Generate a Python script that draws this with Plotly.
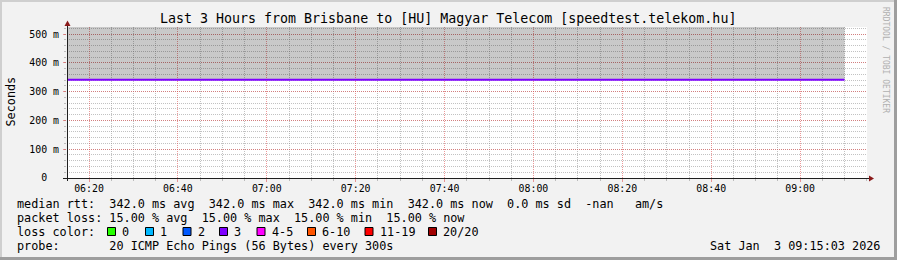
import plotly.graph_objects as go

# ---------------- data ----------------
sample_times = [
    "2026-01-03 06:15:00", "2026-01-03 06:20:00", "2026-01-03 06:25:00", "2026-01-03 06:30:00",
    "2026-01-03 06:35:00", "2026-01-03 06:40:00", "2026-01-03 06:45:00", "2026-01-03 06:50:00",
    "2026-01-03 06:55:00", "2026-01-03 07:00:00", "2026-01-03 07:05:00", "2026-01-03 07:10:00",
    "2026-01-03 07:15:00", "2026-01-03 07:20:00", "2026-01-03 07:25:00", "2026-01-03 07:30:00",
    "2026-01-03 07:35:00", "2026-01-03 07:40:00", "2026-01-03 07:45:00", "2026-01-03 07:50:00",
    "2026-01-03 07:55:00", "2026-01-03 08:00:00", "2026-01-03 08:05:00", "2026-01-03 08:10:00",
    "2026-01-03 08:15:00", "2026-01-03 08:20:00", "2026-01-03 08:25:00", "2026-01-03 08:30:00",
    "2026-01-03 08:35:00", "2026-01-03 08:40:00", "2026-01-03 08:45:00", "2026-01-03 08:50:00",
    "2026-01-03 08:55:00", "2026-01-03 09:00:00", "2026-01-03 09:05:00", "2026-01-03 09:10:00",
]
median_rtt_s = [
    0.342, 0.342, 0.342, 0.342, 0.342, 0.342, 0.342, 0.342, 0.342,
    0.342, 0.342, 0.342, 0.342, 0.342, 0.342, 0.342, 0.342, 0.342,
    0.342, 0.342, 0.342, 0.342, 0.342, 0.342, 0.342, 0.342, 0.342,
    0.342, 0.342, 0.342, 0.342, 0.342, 0.342, 0.342, 0.342, 0.342,
]
smoke_top_s = [
    0.525, 0.525, 0.525, 0.525, 0.525, 0.525, 0.525, 0.525, 0.525,
    0.525, 0.525, 0.525, 0.525, 0.525, 0.525, 0.525, 0.525, 0.525,
    0.525, 0.525, 0.525, 0.525, 0.525, 0.525, 0.525, 0.525, 0.525,
    0.525, 0.525, 0.525, 0.525, 0.525, 0.525, 0.525, 0.525, 0.525,
]
y_tick_vals = [0.0, 0.1, 0.2, 0.3, 0.4, 0.5]
y_tick_text = ["0\u00a0\u00a0", "100 m", "200 m", "300 m", "400 m", "500 m"]
x_range = ["2026-01-03 06:15:03", "2026-01-03 09:15:03"]
y_range = [0, 0.525]

loss_labels = ["0", "1", "2", "3", "4-5", "6-10", "11-19", "20/20"]
loss_colors = ["#26ff00", "#00b8ff", "#0059ff", "#7e00ff", "#ff00ff", "#ff5500", "#ff0000", "#a10000"]
line_color = "#7e00ff"   # 3/20 lost -> colour "3"

title_text = "Last 3 Hours from Brisbane to [HU] Magyar Telecom [speedtest.telekom.hu]"
row_median = "median rtt:  342.0 ms avg  342.0 ms max  342.0 ms min  342.0 ms now  0.0 ms sd  -nan   am/s"
row_loss = "packet loss: 15.00 % avg  15.00 % max  15.00 % min  15.00 % now"
row_color = "loss color:"
row_probe = "probe:       20 ICMP Echo Pings (56 Bytes) every 300s"
date_text = "Sat Jan  3 09:15:03 2026"
watermark = "RRDTOOL / TOBI OETIKER"

# ---------------- geometry ----------------
W, H = 897, 260
L, R, T, B = 67, 867, 27, 178
PW, PH = R - L, B - T


def px(x):
    return (x - L) / PW


def py(y):
    return (B - y) / PH


def nb(s):
    return s.replace(" ", "\u00a0")


MONO = "DejaVu Sans Mono"
BG = "#f2f2f2"
MINOR_GRID = "rgba(143,143,143,0.55)"
MAJOR_GRID = "rgba(222,79,79,0.58)"
ARROW = "#8a1a1a"
AXIS = "#1f1f1f"

fig = go.Figure()

# smoke (grey band above median)
fig.add_trace(go.Scatter(x=sample_times, y=median_rtt_s, mode="lines",
                         line=dict(width=0, color="rgba(0,0,0,0)", shape="hv"),
                         hoverinfo="skip", showlegend=False))
fig.add_trace(go.Scatter(x=sample_times, y=smoke_top_s, mode="lines", fill="tonexty",
                         fillcolor="rgba(0,0,0,0.21)",
                         line=dict(width=0, color="rgba(0,0,0,0)", shape="hv"),
                         hoverinfo="skip", showlegend=False))
# median line
fig.add_trace(go.Scatter(x=sample_times, y=median_rtt_s, mode="lines",
                         line=dict(width=2, color=line_color, shape="hv"),
                         showlegend=False))

fig.update_layout(
    width=W, height=H,
    margin=dict(l=L, r=W - R, t=T, b=H - B, pad=0),
    paper_bgcolor=BG, plot_bgcolor="#ffffff",
    font=dict(family=MONO, size=11.8, color="#000000"),
    showlegend=False,
)

fig.update_xaxes(
    type="date", range=x_range,
    tickmode="linear", tick0="2026-01-03 06:20:00", dtick=20 * 60 * 1000,
    tickformat="%H:%M",
    tickfont=dict(family=MONO, size=9.9, color="#000000"),
    ticks="outside", ticklen=3, tickcolor=MAJOR_GRID, tickwidth=1,
    ticklabelstandoff=-2,
    showgrid=True, gridcolor=MAJOR_GRID, griddash="1px,1px", gridwidth=1,
    minor=dict(tickmode="linear", tick0="2026-01-03 06:15:00", dtick=5 * 60 * 1000,
               ticks="outside", ticklen=2, tickcolor=MINOR_GRID,
               showgrid=True, gridcolor=MINOR_GRID, griddash="1px,1px", gridwidth=1),
    showline=False, zeroline=False, fixedrange=True,
)
fig.update_yaxes(
    range=y_range,
    tickmode="array", tickvals=y_tick_vals, ticktext=y_tick_text,
    tickfont=dict(family=MONO, size=9.9, color="#000000"),
    ticks="outside", ticklen=3, tickcolor=MAJOR_GRID, tickwidth=1,
    ticklabelstandoff=2,
    showgrid=True, gridcolor=MAJOR_GRID, griddash="1px,1px", gridwidth=1,
    minor=dict(tickmode="linear", tick0=0, dtick=0.02,
               ticks="outside", ticklen=2, tickcolor=MINOR_GRID,
               showgrid=True, gridcolor=MINOR_GRID, griddash="1px,1px", gridwidth=1),
    showline=False, zeroline=False, fixedrange=True,
)

shapes = []
# bevelled frame
shapes.append(dict(type="rect", xref="paper", yref="paper", x0=px(0), x1=px(W), y0=py(0), y1=py(2),
                   fillcolor="#cfcfcf", line=dict(width=0), layer="below"))
shapes.append(dict(type="rect", xref="paper", yref="paper", x0=px(0), x1=px(2), y0=py(0), y1=py(H),
                   fillcolor="#cfcfcf", line=dict(width=0), layer="below"))
shapes.append(dict(type="rect", xref="paper", yref="paper", x0=px(W - 3), x1=px(W), y0=py(0), y1=py(H),
                   fillcolor="#9e9e9e", line=dict(width=0), layer="below"))
shapes.append(dict(type="rect", xref="paper", yref="paper", x0=px(0), x1=px(W), y0=py(H - 3), y1=py(H),
                   fillcolor="#9e9e9e", line=dict(width=0), layer="below"))
# axes
shapes.append(dict(type="line", xref="paper", yref="paper", x0=px(63), x1=px(869), y0=py(178.5), y1=py(178.5),
                   line=dict(color=AXIS, width=1)))
shapes.append(dict(type="line", xref="paper", yref="paper", x0=px(67.5), x1=px(67.5), y0=py(181), y1=py(25),
                   line=dict(color=AXIS, width=1)))
# arrows
shapes.append(dict(type="path", xref="paper", yref="paper",
                   path=f"M {px(869)} {py(175.5)} L {px(874)} {py(178.5)} L {px(869)} {py(181.5)} Z",
                   fillcolor=ARROW, line=dict(width=0)))
shapes.append(dict(type="path", xref="paper", yref="paper",
                   path=f"M {px(64.5)} {py(26)} L {px(67.5)} {py(20.5)} L {px(70.5)} {py(26)} Z",
                   fillcolor=ARROW, line=dict(width=0)))

# loss colour swatches
swatch_left = [107.5, 145.5, 183, 219.5, 257, 307.5, 365, 428.5]
annotations = []
for lbl, col, x0 in zip(loss_labels, loss_colors, swatch_left):
    shapes.append(dict(type="rect", xref="paper", yref="paper",
                       x0=px(x0), x1=px(x0 + 8), y0=py(227.5), y1=py(235.5),
                       fillcolor=col, line=dict(color="#000000", width=1)))
    annotations.append(dict(xref="paper", yref="paper", x=px(x0 + 12.5), y=py(231.5),
                            xanchor="left", yanchor="middle", showarrow=False,
                            text=nb(lbl), font=dict(family=MONO, size=11.8, color="#000000")))

# texts
annotations.append(dict(xref="paper", yref="paper", x=px(448), y=py(19), xanchor="center", yanchor="middle",
                        showarrow=False, text=nb(title_text), font=dict(family=MONO, size=13.3, color="#000000")))
for txt, yc in [(row_median, 204), (row_loss, 218), (row_color, 231.5), (row_probe, 245.5)]:
    annotations.append(dict(xref="paper", yref="paper", x=px(14.5), y=py(yc), xanchor="left", yanchor="middle",
                            showarrow=False, text=nb(txt), font=dict(family=MONO, size=11.8, color="#000000")))
annotations.append(dict(xref="paper", yref="paper", x=px(882), y=py(245.5), xanchor="right", yanchor="middle",
                        showarrow=False, text=nb(date_text), font=dict(family=MONO, size=11.8, color="#000000")))
annotations.append(dict(xref="paper", yref="paper", x=px(10.5), y=py(102), xanchor="center", yanchor="middle",
                        textangle=-90, showarrow=False, text="Seconds",
                        font=dict(family=MONO, size=11.8, color="#000000")))
annotations.append(dict(xref="paper", yref="paper", x=px(886), y=py(60), xanchor="center", yanchor="middle",
                        textangle=90, showarrow=False, text=nb(watermark),
                        font=dict(family=MONO, size=8, color="#b0b0b0")))

fig.update_layout(shapes=shapes, annotations=annotations)

fig.write_html("out.html")
